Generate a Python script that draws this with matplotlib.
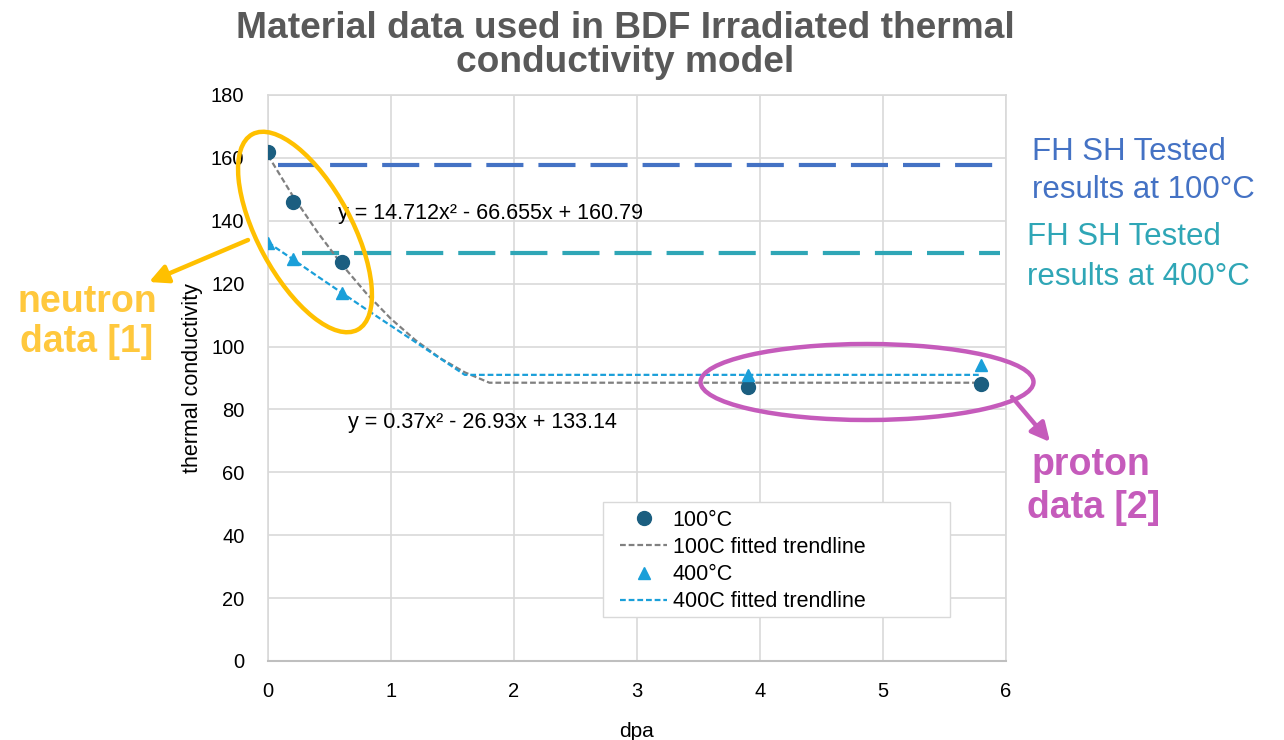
import matplotlib
matplotlib.use("Agg")
import matplotlib.pyplot as plt
from matplotlib.patches import Ellipse, FancyArrowPatch, Rectangle

plt.rcParams['font.family'] = ['Liberation Sans', 'DejaVu Sans']

# ---- data ----
dpa_100 = [0.0, 0.2, 0.6, 3.9, 5.8]
k_100 = [162, 146, 127, 87, 88]
dpa_400 = [0.0, 0.2, 0.6, 3.9, 5.8]
k_400 = [133, 128, 117, 91, 94]

# fitted trendlines
trend100_x = [0.0, 0.2, 0.4, 0.6, 0.8, 1.0, 1.2, 1.4, 1.6, 1.8, 5.8]
trend100_y = [160.8, 148.0, 136.5, 126.1, 116.9, 108.8, 102.0, 96.3, 91.8, 88.5, 88.5]
trend400_x = [0.0, 0.2, 0.4, 0.6, 0.8, 1.0, 1.2, 1.4, 1.6, 5.8]
trend400_y = [133.1, 127.8, 122.4, 117.1, 111.8, 106.6, 101.4, 96.2, 91.0, 91.0]

tested_100 = 157.8
tested_100_x = [0.08, 6.0]
tested_400 = 129.8
tested_400_x = [0.28, 5.95]

eq_100 = "y = 14.712x² - 66.655x + 160.79"
eq_400 = "y = 0.37x² - 26.93x + 133.14"

title_lines = ["Material data used in BDF Irradiated thermal", "conductivity model"]
xticks = [0, 1, 2, 3, 4, 5, 6]
yticks = [0, 20, 40, 60, 80, 100, 120, 140, 160, 180]

# ---- figure ----
W, H = 1284, 740
fig = plt.figure(figsize=(W / 100, H / 100), dpi=100)
ax = fig.add_axes([268 / W, 1 - 661 / H, (1006 - 268) / W, (661 - 95) / H])

grid_c = '#D9D9D9'
ax.set_xlim(0, 6)
ax.set_ylim(0, 180)
ax.set_xticks(xticks)
ax.set_yticks(yticks)
ax.grid(True, color=grid_c, lw=1.2)
ax.set_axisbelow(True)
for s in ['top', 'right', 'left']:
    ax.spines[s].set_color(grid_c)
    ax.spines[s].set_linewidth(1.2)
ax.spines['bottom'].set_color('#BFBFBF')
ax.spines['bottom'].set_linewidth(1.5)
ax.tick_params(length=0, labelsize=14.5, colors='black')
ax.tick_params(axis='y', pad=17)
ax.tick_params(axis='x', pad=15)
ax.set_xlabel('dpa', fontsize=15, labelpad=15)
ax.set_ylabel('thermal conductivity', fontsize=15.5, labelpad=6)

c100 = '#1B5E80'
c400 = '#1A9FD9'

ax.plot(tested_100_x, [tested_100] * 2, color='#4472C4', lw=3, dashes=(8.9, 3.6), zorder=2)
ax.plot(tested_400_x, [tested_400] * 2, color='#2FA6B6', lw=3, dashes=(8.9, 3.6), zorder=2)

ax.plot(dpa_100, k_100, 'o', color=c100, ms=10, label='100°C', zorder=4)
ax.plot(trend100_x, trend100_y, color='#808080', lw=1.6, dashes=(2.6, 1.3), label='100C fitted trendline', zorder=3)
ax.plot(dpa_400, k_400, '^', color=c400, ms=9, label='400°C', zorder=4)
ax.plot(trend400_x, trend400_y, color=c400, lw=1.6, dashes=(2.6, 1.3), label='400C fitted trendline', zorder=3)

ax.text(0.57, 142.3, eq_100, fontsize=15.5, va='center', ha='left')
ax.text(0.65, 76.0, eq_400, fontsize=15.5, va='center', ha='left')

# legend frame (pixel box 603..950 x 502..617) and legend content
ax.add_patch(Rectangle((603 / W, 1 - 617 / H), 347 / W, 115 / H, transform=fig.transFigure,
                       fc='white', ec='#D9D9D9', lw=1.0, zorder=5, clip_on=False))
leg = ax.legend(loc='upper left', bbox_to_anchor=(620 / W, 1 - 510 / H),
                bbox_transform=fig.transFigure, fontsize=15.5, frameon=False,
                handlelength=2.2, handletextpad=0.25, borderpad=0, labelspacing=0.28,
                borderaxespad=0)
leg.set_zorder(6)

# ---- overlay annotations in pixel coordinates ----
ov = fig.add_axes([0, 0, 1, 1], zorder=10)
ov.set_xlim(0, W)
ov.set_ylim(H, 0)
ov.axis('off')
ov.patch.set_alpha(0)

ov.text(625, 38, title_lines[0], ha='center', va='baseline', fontsize=26.7,
        fontweight='bold', color='#595959')
ov.text(625, 72, title_lines[1], ha='center', va='baseline', fontsize=26.7,
        fontweight='bold', color='#595959')

yellow = '#FFC000'
purple = '#C55BBB'
ov.add_patch(Ellipse((305, 232), 222, 94, angle=61.7, fill=False, ec=yellow, lw=3.2))
ov.add_patch(Ellipse((867, 382), 333, 76, angle=0, fill=False, ec=purple, lw=3.2))
ov.add_patch(FancyArrowPatch((248, 240), (149, 282), arrowstyle='-|>', mutation_scale=28,
                             color=yellow, lw=3.2, shrinkA=0, shrinkB=0))
ov.add_patch(FancyArrowPatch((1012, 397), (1050, 442), arrowstyle='-|>', mutation_scale=28,
                             color=purple, lw=3.2, shrinkA=0, shrinkB=0))

ov.text(87, 312, 'neutron', ha='center', va='baseline', fontsize=27,
        fontweight='bold', color='#FFC83D')
ov.text(87, 352, 'data [1]', ha='center', va='baseline', fontsize=27,
        fontweight='bold', color='#FFC83D')
ov.text(1091, 475, 'proton', ha='center', va='baseline', fontsize=27,
        fontweight='bold', color=purple)
ov.text(1094, 518, 'data [2]', ha='center', va='baseline', fontsize=27,
        fontweight='bold', color=purple)

ov.text(1032, 160, 'FH SH Tested', ha='left', va='baseline', fontsize=22.5, color='#4472C4')
ov.text(1032, 198, 'results at 100°C', ha='left', va='baseline', fontsize=22.5, color='#4472C4')
ov.text(1027, 245, 'FH SH Tested', ha='left', va='baseline', fontsize=22.5, color='#2FA6B6')
ov.text(1027, 285, 'results at 400°C', ha='left', va='baseline', fontsize=22.5, color='#2FA6B6')

fig.savefig('out.png', dpi=100)
